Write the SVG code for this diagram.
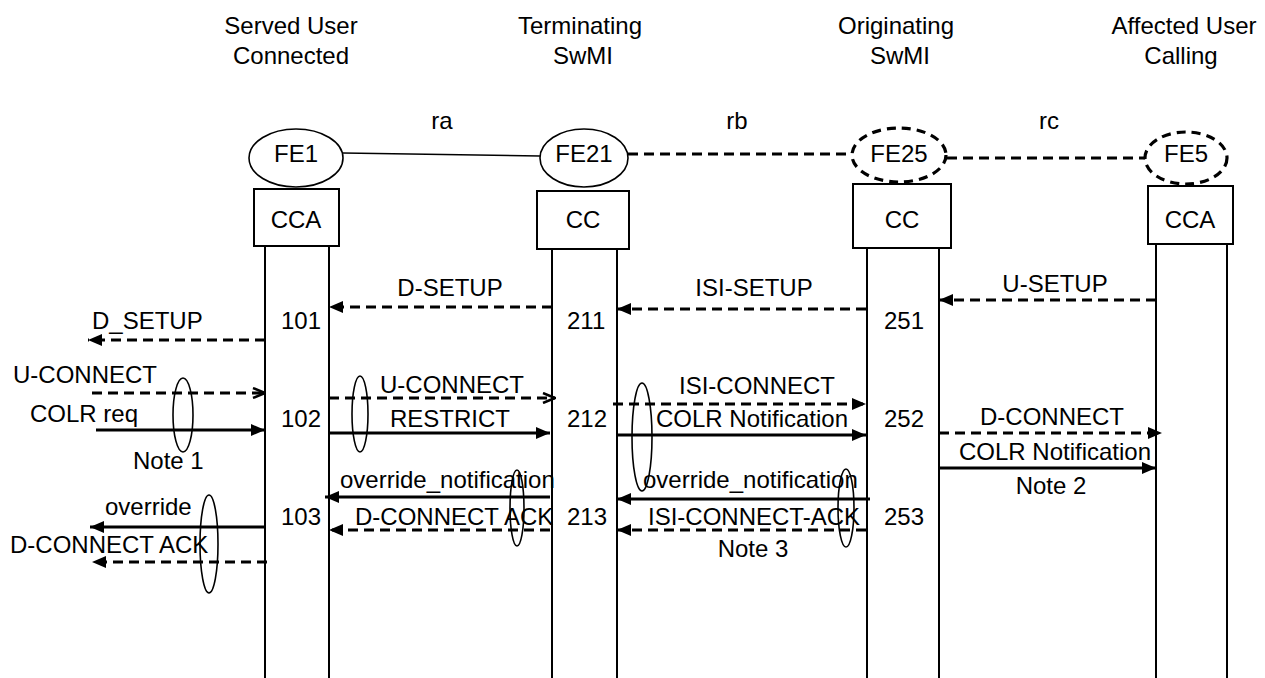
<svg xmlns="http://www.w3.org/2000/svg" width="1265" height="678" viewBox="0 0 1265 678">
<style>
text{font-family:"Liberation Sans",Arial,sans-serif;font-size:24px;fill:#000}
.m{text-anchor:middle}
.box{fill:#fff;stroke:#000;stroke-width:2}
.fe{fill:#fff;stroke:#000;stroke-width:1.6}
.fed{fill:#fff;stroke:#000;stroke-width:3.2;stroke-dasharray:9,6}
.life{stroke:#000;stroke-width:2;fill:none}
.s{stroke:#000;stroke-width:3;fill:none}
.d{stroke:#000;stroke-width:3;fill:none;stroke-dasharray:10,6}
.note{fill:none;stroke:#000;stroke-width:1.6}
</style>
<defs>
<marker id="a" viewBox="0 0 14 12" refX="14" refY="6" markerWidth="14" markerHeight="12" markerUnits="userSpaceOnUse" orient="auto"><path d="M0,0 L14,6 L0,12 z" fill="#000"/></marker>
<marker id="o" viewBox="0 0 14 12" refX="13" refY="6" markerWidth="14" markerHeight="12" markerUnits="userSpaceOnUse" orient="auto"><path d="M1,1 L13,6 L1,11" fill="none" stroke="#000" stroke-width="2.5"/></marker>
</defs>

<g id="title-labels">
<text class="m" x="291" y="34">Served User</text>
<text class="m" x="291" y="64">Connected</text>
<text class="m" x="580" y="34">Terminating</text>
<text class="m" x="583" y="64">SwMI</text>
<text class="m" x="896" y="34">Originating</text>
<text class="m" x="900" y="64">SwMI</text>
<text class="m" x="1184" y="34">Affected User</text>
<text class="m" x="1181" y="64">Calling</text>
<text class="m" x="442" y="129">ra</text>
<text class="m" x="737" y="129">rb</text>
<text class="m" x="1049" y="129">rc</text>
</g>

<g id="connectors">
<line x1="343" y1="153" x2="540" y2="156" stroke="#000" stroke-width="1.6"/>
<line class="d" x1="628" y1="154" x2="852" y2="154"/>
<line class="d" x1="947" y1="158" x2="1145" y2="158"/>

<line class="d" x1="552" y1="307" x2="329" y2="307" marker-end="url(#a)"/>
<line class="d" x1="866" y1="309" x2="617" y2="309" marker-end="url(#a)"/>
<line class="d" x1="1156" y1="300" x2="939" y2="300" marker-end="url(#a)"/>
<line class="d" x1="265" y1="340" x2="88" y2="340" marker-end="url(#a)"/>
<line class="d" x1="92" y1="393" x2="265" y2="393" marker-end="url(#o)"/>
<line class="s" x1="96" y1="430" x2="265" y2="430" marker-end="url(#a)"/>
<line class="d" x1="329" y1="398" x2="555" y2="398" marker-end="url(#o)"/>
<line class="s" x1="329" y1="433" x2="550" y2="433" marker-end="url(#a)"/>
<line class="d" x1="613" y1="404" x2="866" y2="404" marker-end="url(#a)"/>
<line class="s" x1="617" y1="435" x2="866" y2="435" marker-end="url(#a)"/>
<line class="d" x1="939" y1="433" x2="1162" y2="433" marker-end="url(#a)"/>
<line class="s" x1="939" y1="468" x2="1156" y2="468" marker-end="url(#a)"/>
<line class="s" x1="550" y1="497" x2="325" y2="497" marker-end="url(#a)"/>
<line class="d" x1="550" y1="530" x2="329" y2="530" marker-end="url(#a)"/>
<line class="s" x1="870" y1="499" x2="617" y2="499" marker-end="url(#a)"/>
<line class="d" x1="866" y1="530" x2="617" y2="530" marker-end="url(#a)"/>
<line class="s" x1="265" y1="527" x2="90" y2="527" marker-end="url(#a)"/>
<line class="d" x1="267" y1="562" x2="92" y2="562" marker-end="url(#a)"/>
</g>

<g id="fe1">
<ellipse class="fe" cx="296" cy="158" rx="47" ry="29"/>
<text class="m" x="296" y="162">FE1</text>
<rect class="box" x="254" y="189" width="85" height="57"/>
<text class="m" x="296" y="228">CCA</text>
<line class="life" x1="265" y1="246" x2="265" y2="678"/>
<line class="life" x1="329" y1="246" x2="329" y2="678"/>
</g>
<g id="fe21">
<ellipse class="fe" cx="584" cy="158" rx="44" ry="29"/>
<text class="m" x="584" y="162">FE21</text>
<rect class="box" x="537" y="191" width="92" height="58"/>
<text class="m" x="583" y="228">CC</text>
<line class="life" x1="552" y1="249" x2="552" y2="678"/>
<line class="life" x1="617" y1="249" x2="617" y2="678"/>
</g>
<g id="fe25">
<ellipse class="fed" cx="899" cy="155" rx="47" ry="27"/>
<text class="m" x="899" y="162">FE25</text>
<rect class="box" x="853" y="184" width="98" height="64"/>
<text class="m" x="902" y="228">CC</text>
<line class="life" x1="867" y1="248" x2="867" y2="678"/>
<line class="life" x1="939" y1="248" x2="939" y2="678"/>
</g>
<g id="fe5">
<ellipse class="fed" cx="1186" cy="158" rx="41" ry="26"/>
<text class="m" x="1186" y="162">FE5</text>
<rect class="box" x="1148" y="186" width="85" height="58"/>
<text class="m" x="1190" y="228">CCA</text>
<line class="life" x1="1156" y1="244" x2="1156" y2="678"/>
<line class="life" x1="1227" y1="244" x2="1227" y2="678"/>
</g>

<g id="message-labels">
<text class="m" x="450" y="296">D-SETUP</text>
<text class="m" x="754" y="296">ISI-SETUP</text>
<text class="m" x="1055" y="292">U-SETUP</text>
<text x="92" y="329">D_SETUP</text>
<text x="13" y="383">U-CONNECT</text>
<text x="30" y="422">COLR req</text>
<text x="133" y="469">Note 1</text>
<text class="m" x="452" y="393">U-CONNECT</text>
<text class="m" x="450" y="427">RESTRICT</text>
<text class="m" x="757" y="394">ISI-CONNECT</text>
<text class="m" x="752" y="427">COLR Notification</text>
<text class="m" x="1052" y="425">D-CONNECT</text>
<text class="m" x="1055" y="460">COLR Notification</text>
<text class="m" x="1051" y="494">Note 2</text>
<text x="340" y="488">override_notification</text>
<text x="355" y="525">D-CONNECT ACK</text>
<text x="643" y="488">override_notification</text>
<text class="m" x="754" y="525">ISI-CONNECT-ACK</text>
<text class="m" x="753" y="557">Note 3</text>
<text x="105" y="515">override</text>
<text x="10" y="553">D-CONNECT ACK</text>
<text x="281" y="329">101</text>
<text x="281" y="427">102</text>
<text x="281" y="525">103</text>
<text x="567" y="329">211</text>
<text x="567" y="427">212</text>
<text x="567" y="525">213</text>
<text x="884" y="329">251</text>
<text x="884" y="427">252</text>
<text x="884" y="525">253</text>
</g>

<g id="notes">
<ellipse class="note" cx="183" cy="415" rx="10" ry="37"/>
<ellipse class="note" cx="360" cy="414" rx="8" ry="38"/>
<ellipse class="note" cx="642" cy="437" rx="10" ry="54"/>
<ellipse class="note" cx="517" cy="508" rx="7" ry="38"/>
<ellipse class="note" cx="846" cy="508" rx="8" ry="39"/>
<ellipse class="note" cx="209" cy="544" rx="9" ry="49"/>
</g>
</svg>
